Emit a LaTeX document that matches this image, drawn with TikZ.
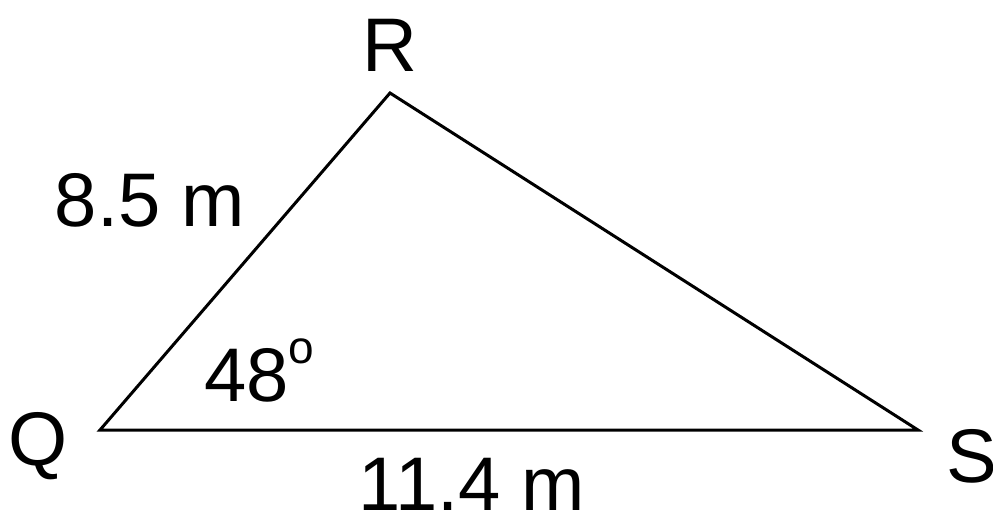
\documentclass[tikz,border=0pt]{standalone}
\usepackage{fontspec}
\setmainfont{Liberation Sans}
\begin{document}
\begin{tikzpicture}[x=1pt,y=-1pt,
  lbl/.style={inner sep=0pt,font=\fontsize{76}{80}\selectfont},
  side/.style={line width=3pt,line join=miter}]
\useasboundingbox (0,0) rectangle (993,510);
\coordinate (Q) at (100,430);
\coordinate (R) at (390,93);
\coordinate (S) at (918,430);
\draw[side] (Q) -- (R) -- (S) -- cycle;
\node[lbl,anchor=base] (r) at (390,72) {R};
\node[lbl,anchor=base west] (q) at (8,465) {Q};
\node[lbl,anchor=base west] (s) at (946,482) {S};
\node[lbl,anchor=base] (a) at (150,227) {8.5 m};
\node[lbl,anchor=base] (b) at (472,510) {11.4 m};
\node[lbl,anchor=base west] (ang) at (204,402) {48\raisebox{0.5em}{\fontsize{46}{46}\selectfont o}};
\end{tikzpicture}
\end{document}
